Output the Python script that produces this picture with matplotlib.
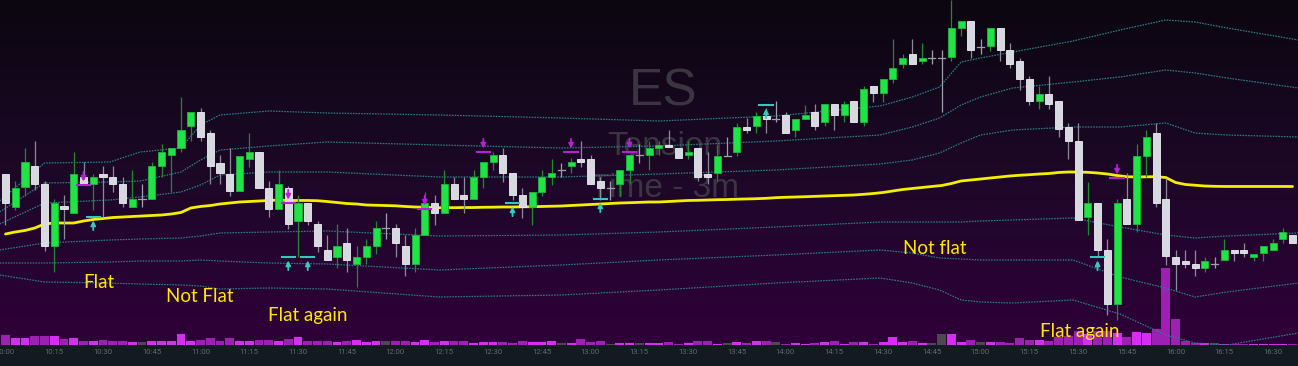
import numpy as np
import matplotlib
matplotlib.use("Agg")
import matplotlib.pyplot as plt
from matplotlib.patches import Rectangle
from matplotlib.collections import LineCollection
from matplotlib.colors import LinearSegmentedColormap

# ---------------- data (ES, 3-minute bars from 10:00) ----------------
opens = [4106.50, 4098.25, 4103.25, 4108.50, 4104.00, 4088.50, 4098.50, 4096.75, 4105.75, 4104.00,
         4106.50, 4105.75, 4104.00, 4098.25, 4100.25, 4100.25, 4108.50, 4111.25, 4113.00, 4118.50,
         4122.00, 4116.75, 4109.25, 4106.50, 4102.25, 4110.25, 4112.00, 4103.00, 4097.75, 4103.00,
         4094.75, 4099.25, 4094.00, 4087.50, 4085.75, 4089.25, 4084.00, 4085.75, 4088.50, 4093.00,
         4093.00, 4088.50, 4084.00, 4091.25, 4099.25, 4096.75, 4104.00, 4101.25, 4100.25, 4105.75,
         4109.50, 4111.25, 4106.75, 4101.25, 4098.25, 4102.00, 4105.75, 4107.50, 4108.50, 4110.25,
         4110.25, 4104.75, 4103.00, 4104.00, 4107.50, 4111.25, 4111.25, 4113.00, 4113.75, 4113.00,
         4111.25, 4113.00, 4106.50, 4106.75, 4111.00, 4112.00, 4118.25, 4118.50, 4121.00, 4120.25,
         4121.25, 4117.50, 4120.25, 4122.00, 4119.50, 4124.00, 4121.25, 4124.75, 4119.50, 4128.50,
         4126.75, 4130.25, 4134.00, 4136.50, 4134.75, 4135.50, 4135.50, 4135.75, 4143.00, 4144.75,
         4138.25, 4138.50, 4143.00, 4137.50, 4134.75, 4130.25, 4124.75, 4126.50, 4124.75, 4118.25,
         4114.75, 4095.75, 4099.25, 4087.50, 4074.00, 4100.25, 4094.00, 4111.00, 4116.75, 4100.25,
         4085.75, 4084.75, 4084.00, 4083.00, 4084.00, 4085.00, 4087.50, 4087.50, 4085.75, 4086.75,
         4087.50, 4090.25, 4091.25]
highs = [4106.50, 4104.75, 4113.00, 4114.75, 4104.75, 4100.25, 4101.25, 4112.00, 4109.50, 4106.50,
         4108.50, 4108.50, 4105.75, 4107.50, 4104.00, 4109.50, 4114.00, 4113.00, 4125.75, 4122.00,
         4123.00, 4117.50, 4111.25, 4113.00, 4111.00, 4116.75, 4112.00, 4104.75, 4107.50, 4103.50,
         4101.25, 4099.25, 4094.75, 4091.25, 4094.00, 4093.00, 4088.50, 4090.25, 4094.75, 4096.75,
         4094.00, 4091.25, 4093.00, 4102.00, 4101.25, 4107.50, 4105.75, 4105.75, 4107.50, 4109.50,
         4112.00, 4113.00, 4106.75, 4103.00, 4102.00, 4107.50, 4110.25, 4109.25, 4110.50, 4114.75,
         4111.25, 4105.75, 4104.75, 4107.50, 4111.25, 4114.00, 4114.75, 4114.75, 4117.50, 4113.00,
         4114.75, 4113.00, 4112.00, 4113.75, 4115.75, 4119.25, 4120.50, 4122.00, 4123.00, 4124.75,
         4122.00, 4120.25, 4123.75, 4124.00, 4124.00, 4124.00, 4124.75, 4124.75, 4128.50, 4128.50,
         4130.25, 4140.25, 4136.50, 4140.25, 4139.25, 4137.50, 4137.50, 4150.00, 4144.75, 4144.75,
         4140.25, 4143.00, 4143.00, 4139.25, 4135.50, 4131.00, 4128.50, 4131.00, 4124.75, 4119.25,
         4119.25, 4104.50, 4099.25, 4090.25, 4100.25, 4106.75, 4114.00, 4117.50, 4119.25, 4105.50,
         4087.50, 4087.50, 4087.50, 4085.75, 4085.75, 4090.25, 4087.50, 4089.25, 4086.50, 4088.50,
         4090.25, 4093.00, 4091.25]
lows = [4093.75, 4097.50, 4101.00, 4102.50, 4087.25, 4082.00, 4090.25, 4096.75, 4103.75, 4097.50,
        4095.75, 4102.00, 4098.25, 4098.25, 4098.25, 4100.25, 4105.75, 4102.00, 4112.00, 4114.75,
        4114.75, 4104.00, 4104.00, 4101.00, 4102.25, 4108.25, 4103.00, 4095.75, 4097.75, 4092.75,
        4085.75, 4093.75, 4087.00, 4085.00, 4083.00, 4082.00, 4078.25, 4084.00, 4086.50, 4090.25,
        4085.75, 4081.00, 4082.00, 4091.25, 4093.75, 4096.75, 4100.25, 4096.75, 4100.25, 4103.00,
        4107.50, 4104.50, 4100.00, 4095.50, 4093.75, 4101.00, 4103.75, 4105.75, 4106.75, 4108.25,
        4104.00, 4100.00, 4100.00, 4101.00, 4104.00, 4109.25, 4107.50, 4111.25, 4113.25, 4110.50,
        4110.25, 4104.75, 4104.00, 4104.75, 4111.00, 4111.00, 4116.75, 4116.75, 4116.75, 4119.50,
        4116.75, 4115.75, 4120.25, 4117.50, 4118.50, 4117.50, 4119.50, 4119.50, 4118.50, 4124.50,
        4124.50, 4129.25, 4133.00, 4134.00, 4134.00, 4134.00, 4122.00, 4134.75, 4141.00, 4135.50,
        4136.50, 4137.25, 4134.75, 4133.00, 4127.50, 4123.75, 4122.75, 4122.75, 4115.75, 4110.25,
        4095.00, 4091.25, 4085.75, 4071.25, 4070.00, 4094.00, 4092.00, 4105.75, 4098.25, 4083.75,
        4077.50, 4083.00, 4081.00, 4082.00, 4083.00, 4085.00, 4084.75, 4085.75, 4084.75, 4084.75,
        4087.50, 4089.25, 4089.25]
closes = [4099.25, 4103.00, 4109.50, 4104.00, 4088.50, 4099.25, 4097.75, 4106.50, 4103.75, 4105.75,
          4105.75, 4104.00, 4099.25, 4100.25, 4100.25, 4108.50, 4112.00, 4113.00, 4117.50, 4122.00,
          4115.75, 4108.50, 4106.75, 4102.25, 4111.00, 4112.00, 4103.00, 4097.75, 4104.00, 4094.00,
          4099.25, 4094.75, 4088.50, 4085.00, 4088.50, 4085.00, 4085.75, 4088.50, 4093.00, 4093.00,
          4089.25, 4084.00, 4091.25, 4099.25, 4096.75, 4104.00, 4100.25, 4100.25, 4105.75, 4109.50,
          4111.25, 4106.75, 4101.25, 4098.25, 4102.00, 4105.75, 4106.75, 4107.50, 4109.50, 4109.50,
          4104.00, 4103.00, 4103.00, 4107.50, 4111.25, 4111.25, 4113.00, 4113.75, 4113.25, 4110.50,
          4112.00, 4105.75, 4105.75, 4111.00, 4111.00, 4118.25, 4117.50, 4121.00, 4120.25, 4120.25,
          4116.75, 4120.25, 4121.25, 4118.50, 4124.00, 4121.25, 4124.00, 4119.50, 4127.75, 4126.75,
          4130.25, 4133.00, 4135.50, 4134.00, 4135.50, 4135.50, 4135.50, 4143.00, 4144.75, 4137.50,
          4138.25, 4143.00, 4137.50, 4134.00, 4130.25, 4124.75, 4126.50, 4124.00, 4117.75, 4114.75,
          4095.00, 4099.25, 4087.50, 4074.00, 4099.25, 4094.00, 4111.00, 4115.75, 4099.25, 4086.00,
          4084.00, 4084.00, 4083.00, 4084.75, 4084.00, 4087.50, 4086.75, 4086.75, 4086.50, 4088.50,
          4089.25, 4092.00, 4089.25]
volumes = [3000, 2100, 2100, 2700, 2700, 2700, 1800, 2100, 1100, 1300,
           1600, 1200, 1200, 900, 900, 1100, 1300, 1300, 3400, 1300,
           1600, 2100, 1300, 2000, 1100, 1300, 1600, 1600, 1300, 1800,
           2300, 1200, 1300, 1300, 900, 1300, 1600, 900, 1100, 1100,
           1300, 1100, 900, 1600, 900, 1300, 1100, 1200, 700, 900,
           900, 900, 700, 1200, 900, 900, 1200, 700, 700, 1800,
           900, 1200, 300, 700, 700, 700, 700, 700, 1000, 400,
           700, 1200, 1200, 400, 700, 900, 700, 1200, 1200, 900,
           400, 700, 400, 700, 900, 1200, 400, 900, 900, 400,
           900, 2500, 900, 1200, 700, 700, 3200, 3200, 900, 1400,
           900, 900, 900, 700, 2100, 1500, 1500, 1300, 2500, 2800,
           4300, 3300, 4100, 4100, 3700, 2500, 3900, 3700, 4700, 23100,
           7800, 1200, 700, 700, 500, 400, 200, 200, 200, 400,
           200, 400, 200]
vwap = [4091.50, 4092.00, 4092.38, 4093.00, 4094.00, 4094.25, 4094.25, 4094.25, 4094.75, 4095.12,
        4095.38, 4095.62, 4095.75, 4095.88, 4096.00, 4096.12, 4096.25, 4096.50, 4096.88, 4098.00,
        4098.38, 4098.62, 4099.00, 4099.25, 4099.50, 4099.62, 4099.75, 4099.88, 4100.00, 4099.88,
        4099.88, 4099.88, 4099.82, 4099.62, 4099.38, 4099.12, 4099.00, 4098.75, 4098.68, 4098.62,
        4098.55, 4098.38, 4098.25, 4098.18, 4098.08, 4098.08, 4098.08, 4098.12, 4098.12, 4098.18,
        4098.20, 4098.25, 4098.25, 4098.30, 4098.32, 4098.38, 4098.45, 4098.50, 4098.62, 4098.75,
        4098.88, 4099.00, 4099.12, 4099.25, 4099.32, 4099.42, 4099.50, 4099.50, 4099.62, 4099.75,
        4099.88, 4099.92, 4100.00, 4100.08, 4100.12, 4100.20, 4100.25, 4100.32, 4100.42, 4100.58,
        4100.68, 4100.75, 4100.82, 4100.92, 4101.00, 4101.08, 4101.18, 4101.25, 4101.42, 4101.62,
        4101.88, 4102.25, 4102.62, 4102.88, 4103.12, 4103.38, 4103.62, 4104.12, 4104.75, 4105.00,
        4105.25, 4105.50, 4105.75, 4106.00, 4106.18, 4106.32, 4106.50, 4106.62, 4106.88, 4107.00,
        4107.00, 4106.92, 4106.75, 4106.50, 4106.12, 4105.82, 4105.75, 4105.80, 4105.82, 4105.62,
        4104.38, 4103.88, 4103.68, 4103.50, 4103.42, 4103.38, 4103.38, 4103.38, 4103.38, 4103.38,
        4103.38, 4103.38, 4103.38]

# VWAP deviation bands, read at these bar positions
band_x = [-0.6, 4, 10.7, 13.8, 18, 20, 22, 27, 33, 44.5, 57, 67, 79, 89.7, 93, 95.8,
          98, 100, 103.3, 109.5, 114.3, 119, 122, 125.3, 132.6]
band_up3 = [4099.75, 4109.25, 4109.50, 4112.00, 4113.00, 4118.75, 4121.25, 4122.25, 4121.75, 4121.25,
            4120.50, 4119.75, 4121.00, 4123.50, 4125.75, 4128.25, 4134.50, 4135.50, 4137.00, 4139.75,
            4142.50, 4145.00, 4144.50, 4143.00, 4140.00]
band_up2 = [4097.00, 4104.25, 4104.50, 4104.75, 4107.00, 4110.00, 4112.50, 4113.50, 4114.50, 4113.75,
            4113.00, 4113.50, 4114.75, 4116.25, 4118.25, 4120.50, 4123.75, 4125.75, 4128.00, 4129.50,
            4130.75, 4132.50, 4131.75, 4130.50, 4128.00]
band_up1 = [4094.00, 4099.25, 4100.00, 4100.75, 4102.00, 4103.75, 4106.25, 4107.00, 4107.00, 4105.75,
            4105.75, 4106.50, 4107.50, 4109.00, 4110.00, 4111.75, 4114.25, 4116.25, 4117.50, 4118.25,
            4118.25, 4119.25, 4116.75, 4116.25, 4115.75]
band_dn1 = [4087.50, 4089.25, 4090.00, 4090.25, 4090.50, 4091.00, 4091.75, 4092.00, 4092.25, 4091.00,
            4091.25, 4092.00, 4093.25, 4094.50, 4094.50, 4094.50, 4094.50, 4094.75, 4095.00, 4095.50,
            4093.25, 4091.25, 4090.50, 4091.00, 4091.75]
band_dn2 = [4084.25, 4084.25, 4084.50, 4084.75, 4084.75, 4085.00, 4084.75, 4084.25, 4084.00, 4082.50,
            4083.75, 4085.00, 4086.25, 4087.50, 4086.75, 4085.50, 4085.25, 4085.00, 4085.00, 4085.00,
            4080.75, 4078.00, 4075.75, 4077.00, 4079.25]
band_dn3 = [4081.25, 4079.50, 4079.25, 4079.00, 4078.75, 4078.50, 4077.75, 4078.00, 4077.75, 4075.75,
            4076.25, 4077.50, 4079.25, 4080.50, 4079.25, 4077.50, 4075.00, 4074.50, 4074.25, 4075.00,
            4071.50, 4066.25, 4064.25, 4063.75, 4066.75]

sell_idx = [8, 29, 43, 49, 58, 64, 114]
sell_lvl = [4103.75, 4099.25, 4097.75, 4112.00, 4112.00, 4112.00, 4105.50]
buy_idx = [9, 29, 31, 52, 61, 78, 112]
buy_lvl = [4095.75, 4085.75, 4085.75, 4099.25, 4100.25, 4123.75, 4085.75]

time_labels = ["10:00", "10:15", "10:30", "10:45", "11:00", "11:15", "11:30", "11:45",
               "12:00", "12:15", "12:30", "12:45", "13:00", "13:15", "13:30", "13:45",
               "14:00", "14:15", "14:30", "14:45", "15:00", "15:15", "15:30", "15:45",
               "16:00", "16:15", "16:30"]
bars_per_label = 5

notes = [("Flat", 7.95, 4079.5), ("Not Flat", 16.46, 4076.0), ("Flat again", 26.92, 4071.25),
         ("Not flat", 92.05, 4087.75), ("Flat again", 106.1, 4067.0)]

# ---------------- figure ----------------
W, H = 1298, 366
fig = plt.figure(figsize=(W / 100, H / 100), dpi=100, facecolor="#131a21")
ax = fig.add_axes([0, 21 / H, 1, 345 / H])
n = len(opens)
xmin, xmax = -0.564, 132.56
ymin, ymax = 4063.75, 4150.0
ax.set_xlim(xmin, xmax)
ax.set_ylim(ymin, ymax)
for s in ax.spines.values():
    s.set_visible(False)

# background gradient
cmap = LinearSegmentedColormap.from_list("bg", ["#2f0039", "#1d0827", "#0b0610"])
grad = np.linspace(0, 1, 256).reshape(-1, 1)
ax.imshow(grad, extent=[xmin, xmax, ymin, ymax], origin="lower", aspect="auto",
          cmap=cmap, zorder=0, interpolation="bilinear")

# watermark
wm = "#3a3541"
ax.text(0.511, 0.733, "ES", transform=ax.transAxes, ha="center", va="center",
        fontsize=37, color=wm, family="Liberation Sans", zorder=1)
ax.text(0.512, 0.574, "Tension", transform=ax.transAxes, ha="center", va="center",
        fontsize=24, color=wm, family="Liberation Sans", zorder=1)
ax.text(0.512, 0.455, "Time - 3m", transform=ax.transAxes, ha="center", va="center",
        fontsize=24, color=wm, family="Liberation Sans", zorder=1)

# volume (bottom overlay, in axis-fraction height)
vol_full = 103500.0
up_c, dn_c, flat_c = "#d52ef2", "#9c20b1", "#4a4a4e"
xt = ax.get_xaxis_transform()
for i in range(n):
    if closes[i] > opens[i]:
        c = up_c
    elif closes[i] < opens[i]:
        c = dn_c
    else:
        c = flat_c
    ax.add_patch(Rectangle((i - 0.46, 0), 0.92, volumes[i] / vol_full, transform=xt,
                           facecolor=c, edgecolor="none", zorder=2))

# bands
for b in (band_up3, band_up2, band_up1, band_dn1, band_dn2, band_dn3):
    ax.plot(band_x, b, color="#2a7b85", lw=0.9, ls=(0, (1.3, 0.9)), zorder=2.5)

# vwap
ax.plot(np.arange(n), vwap, color="#f4ef00", lw=2.0, zorder=3, solid_capstyle="round")

# candles
bw = 0.72
wick_segs, wick_cols = [], []
for i in range(n):
    o, h, l, c = opens[i], highs[i], lows[i], closes[i]
    if c > o:
        wc = "#1f8a30"
    elif c < o:
        wc = "#8c8c98"
    else:
        wc = "#a0a0aa"
    wick_segs.append([(i, l), (i, h)])
    wick_cols.append(wc)
ax.add_collection(LineCollection(wick_segs, colors=wick_cols, linewidths=0.9, zorder=4))
for i in range(n):
    o, c = opens[i], closes[i]
    if c == o:
        ax.plot([i - bw / 2, i + bw / 2], [o, o], color="#a0a0aa", lw=0.9, zorder=4.5)
        continue
    lo, hi = min(o, c), max(o, c)
    hgt = max(hi - lo, 0.3)
    if c > o:
        fc, ec = "#22e346", "#1bb83a"
    else:
        fc, ec = "#d8d8e0", "#eeeef3"
    ax.add_patch(Rectangle((i - bw / 2, lo), bw, hgt, facecolor=fc, edgecolor=ec,
                           linewidth=0.6, zorder=4.5))

# signal markers
mag, cyan = "#b61fd4", "#35c9bb"
for i, lv in zip(sell_idx, sell_lvl):
    ax.plot([i - 0.68, i + 0.68], [lv, lv], color=mag, lw=1.5, zorder=5)
    ax.annotate("", xy=(i, lv), xytext=(0, 9.5), textcoords="offset points",
                arrowprops=dict(arrowstyle="-|>", color=mag, lw=1.3, mutation_scale=7,
                                shrinkA=0, shrinkB=2.5), zorder=5)
for i, lv in zip(buy_idx, buy_lvl):
    ax.plot([i - 0.68, i + 0.68], [lv, lv], color=cyan, lw=1.5, zorder=5)
    ax.annotate("", xy=(i, lv), xytext=(0, -9.5), textcoords="offset points",
                arrowprops=dict(arrowstyle="-|>", color=cyan, lw=1.3, mutation_scale=7,
                                shrinkA=0, shrinkB=2.5), zorder=5)

# notes
for txt, xi, yp in notes:
    ax.text(xi, yp, txt, color="#ffe800", fontsize=13.5, family="Lato",
            ha="left", va="center", zorder=6)

# time axis
ax.set_yticks([])
ax.set_xticks(np.arange(len(time_labels)) * bars_per_label)
ax.set_xticklabels(time_labels, fontsize=5.6, color="#5f6872", family="Roboto")
ax.tick_params(axis="x", length=0, pad=3.2)

fig.savefig("out.png", dpi=100, facecolor=fig.get_facecolor())
